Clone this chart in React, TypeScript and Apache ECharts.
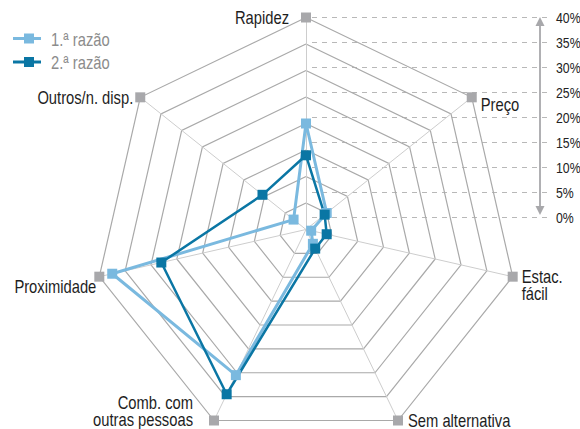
import React, { useEffect, useRef } from 'react';
import * as echarts from 'echarts';

// ---- data (clockwise from top, as in the reference) ----
const categories = [
  'Rapidez',
  'Preço',
  'Estac.\nfácil',
  'Sem alternativa',
  'Comb. com\noutras pessoas',
  'Proximidade',
  'Outros/n. disp.',
];
const razao1 = [20, 5, 1, 3, 30.5, 37.5, 3];
const razao2 = [14, 4.5, 4, 4, 34.5, 28, 10.5];
const seriesNames = ['1.ª razão', '2.ª razão'];
const tickValues = [0, 5, 10, 15, 20, 25, 30, 35, 40];
const maxValue = 40;

// ---- layout / style ----
const W = 580;
const H = 429;
const CX = 306;
const CY = 229.5;
const R = 212;
const FONT = "'Liberation Sans', Arial, sans-serif";
const NARROW = 0.82;
const LIGHT = '#7ab9df';
const DARK = '#0a76a4';
const MARK_GRAY = '#a8a8ab';

type LabelPos = { dx: number; dy: number; align: 'left' | 'right' | 'center'; valign: 'top' | 'middle' };
const labelLayout: LabelPos[] = [
  { dx: -17, dy: 0, align: 'right', valign: 'middle' },
  { dx: 9, dy: 7, align: 'left', valign: 'middle' },
  { dx: 9, dy: -8.5, align: 'left', valign: 'top' },
  { dx: 10, dy: 0, align: 'left', valign: 'middle' },
  { dx: -21, dy: -26.5, align: 'right', valign: 'top' },
  { dx: -3, dy: 10, align: 'right', valign: 'middle' },
  { dx: -7, dy: 0, align: 'right', valign: 'middle' },
];

// ECharts places indicators counter-clockwise; reorder to keep reference's clockwise order
const order = [0, 6, 5, 4, 3, 2, 1];

function vertex(k: number) {
  const a = ((90 - (k * 360) / categories.length) * Math.PI) / 180;
  return { x: CX + R * Math.cos(a), y: CY - R * Math.sin(a) };
}

function narrowText(x: number, y: number, text: string, size: number, fill: string, align: string, valign: string, extra: any = {}) {
  return {
    type: 'text',
    x,
    y,
    scaleX: NARROW,
    z: 10,
    style: {
      text,
      fill,
      font: `${size}px ${FONT}`,
      lineHeight: 17,
      align,
      textAlign: align,
      verticalAlign: valign,
      textVerticalAlign: valign,
      ...extra,
    },
  };
}

export default function App() {
  const ref = useRef<HTMLDivElement>(null);
  useEffect(() => {
    if (!ref.current) return;
    const chart = echarts.init(ref.current, null, { renderer: 'svg' });

    const graphics: any[] = [];

    // dashed scale lines + labels on right
    const scaleTop = 17.5;
    const pxPerUnit = 5;
    tickValues.forEach((v) => {
      const y = scaleTop + (maxValue - v) * pxPerUnit;
      graphics.push({
        type: 'line',
        z: -1,
        shape: { x1: 312, y1: y, x2: 549, y2: y },
        style: { stroke: '#b8b8b8', lineWidth: 1.2, lineDash: [5, 5] },
      });
      graphics.push(narrowText(556, y + 1, v + '%', 15, '#222', 'left', 'middle'));
    });
    // arrow
    graphics.push({
      type: 'line',
      shape: { x1: 540, y1: 23, x2: 540, y2: 209 },
      style: { stroke: '#a8a8ab', lineWidth: 1.8 },
    });
    graphics.push({
      type: 'polygon',
      shape: { points: [[540, 17], [535.5, 26], [544.5, 26]] },
      style: { fill: '#a8a8ab' },
    });
    graphics.push({
      type: 'polygon',
      shape: { points: [[540, 215], [535.5, 206], [544.5, 206]] },
      style: { fill: '#a8a8ab' },
    });

    // axis names
    categories.forEach((name, k) => {
      const p = vertex(k);
      const L = labelLayout[k];
      graphics.push(narrowText(p.x + L.dx, p.y + L.dy, name, 18, '#1e1e1e', L.align, L.valign));
    });

    // legend
    const legendColors = [LIGHT, DARK];
    seriesNames.forEach((n, i) => {
      const y = 38.5 + i * 23.5;
      graphics.push({
        type: 'line',
        shape: { x1: 13, y1: y, x2: 41, y2: y },
        style: { stroke: legendColors[i], lineWidth: 3 },
      });
      graphics.push({
        type: 'rect',
        shape: { x: 24, y: y - 5, width: 10, height: 10 },
        style: { fill: legendColors[i] },
      });
      graphics.push(narrowText(51, y + 0.5, n, 18, '#8c8c8c', 'left', 'middle'));
    });

    const reorder = (arr: any[]) => order.map((i) => arr[i]);
    const outer = categories.map(() => maxValue);

    chart.setOption({
      animation: false,
      radar: {
        center: [CX, CY],
        radius: R,
        startAngle: 90,
        splitNumber: 8,
        shape: 'polygon',
        indicator: reorder(categories).map((c: string) => ({ name: c, min: 0, max: maxValue })),
        axisName: { show: false },
        splitLine: { lineStyle: { color: '#a9a9a9', width: 1.2 } },
        splitArea: { show: false },
        axisLine: { lineStyle: { color: '#cdcdcd', width: 1 } },
        axisTick: { show: false },
        axisLabel: { show: false },
      },
      graphic: { elements: graphics },
      series: [
        {
          type: 'radar',
          silent: true,
          data: [
            {
              name: 'eixos',
              value: reorder(outer),
              symbol: 'rect',
              symbolSize: 10,
              itemStyle: { color: MARK_GRAY },
              lineStyle: { opacity: 0, width: 0 },
            },
            {
              name: seriesNames[0],
              value: reorder(razao1),
              symbol: 'rect',
              symbolSize: 10,
              itemStyle: { color: LIGHT },
              lineStyle: { color: LIGHT, width: 3 },
            },
            {
              name: seriesNames[1],
              value: reorder(razao2),
              symbol: 'rect',
              symbolSize: 10,
              itemStyle: { color: DARK },
              lineStyle: { color: DARK, width: 2.5 },
            },
          ],
        },
      ],
    });
    return () => chart.dispose();
  }, []);
  return (
    <div
      ref={ref}
      style={{ position: 'absolute', left: 0, top: 0, width: W, height: H, background: '#fff' }}
    />
  );
}
